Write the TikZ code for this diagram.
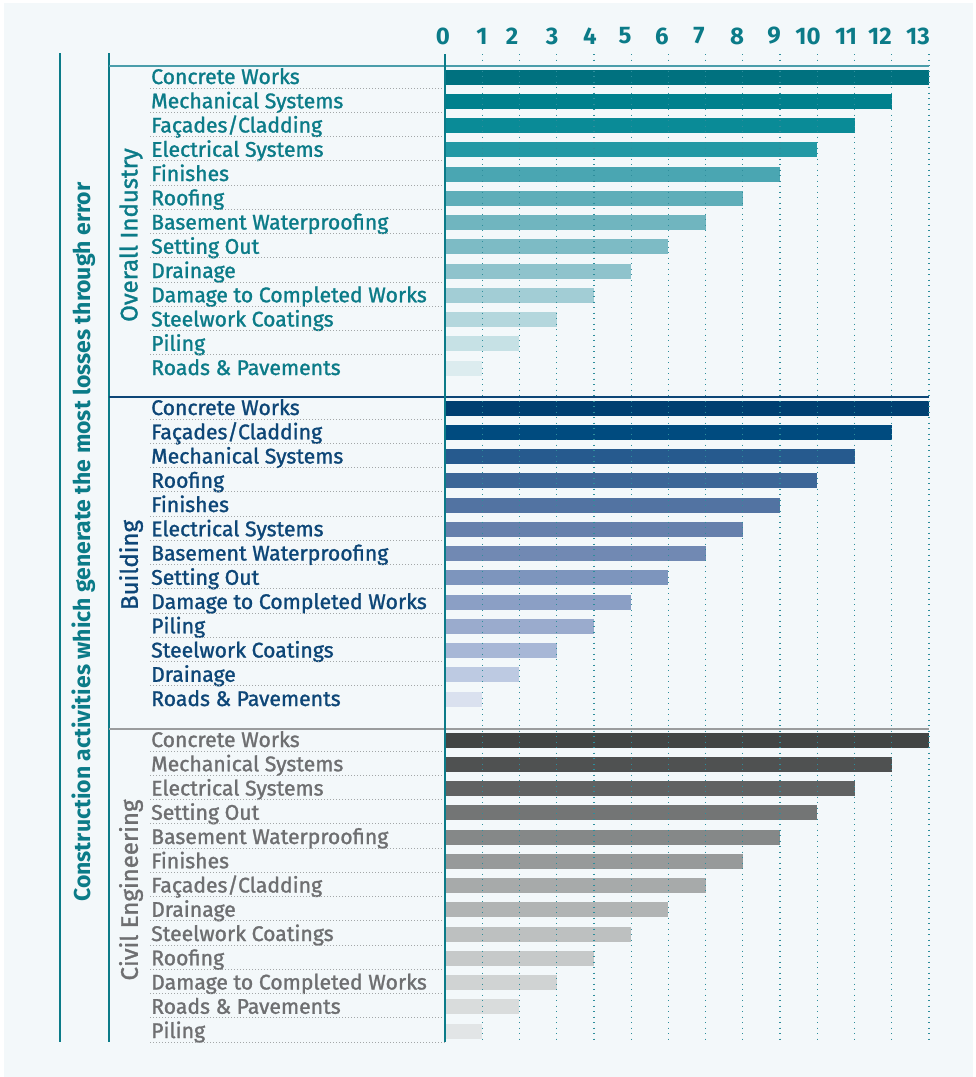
\documentclass[tikz,border=0pt]{standalone}
\usepackage{fontspec}
\setmainfont{Fira Sans}
\newfontfamily\lblfont[FakeBold=1.3]{Fira Sans}
\definecolor{bgcol}{HTML}{F3F8FA}
\definecolor{teal1}{HTML}{0B7B88}
\definecolor{axiscol}{HTML}{4A9DAA}
\definecolor{blue1}{HTML}{0D4677}
\definecolor{grey1}{HTML}{6E6F71}
\definecolor{greyline}{HTML}{9A9C9D}
\definecolor{dotcol}{HTML}{A3A7A8}
\definecolor{gridcol}{HTML}{2E8E9C}

% #1 name, #2 first row, #3 text colour, #4 dotted rules, #5 rows
\newcommand\bargroup[5]{%
  \foreach \lab/\col [count=\i from 0] in {#5}{
    \pgfmathsetmacro\ry{#2+\i*24.25}
    \pgfmathsetmacro\xe{445+(13-\i)*37.23}
    \definecolor{barcol}{HTML}{\col}
    \fill[barcol] (446,\ry-7.5) rectangle (\xe,\ry+7.5);
    \node[rowlbl,text=#3] (#1-\i) at (151,\ry+7) {\lab};
    \ifnum\i<#4 \draw[dotcol,line width=0.8,dash pattern=on 0.8 off 2.2] (150,\ry+11) -- (445,\ry+11);\fi
  }}

\begin{document}
\begin{tikzpicture}[x=1pt,y=-1pt,
  rowlbl/.style={anchor=base west,inner sep=0pt,font=\lblfont\fontsize{21.2}{22}\selectfont},
  grplbl/.style={rotate=90,inner sep=0pt,font=\lblfont\fontsize{24}{26}\selectfont},
  ticklbl/.style={inner sep=0pt,text=teal1,font=\bfseries\fontsize{24}{26}\selectfont}]
\useasboundingbox (0,0) rectangle (976,1077);
\fill[bgcol] (4,3) rectangle (973,1077);

\bargroup{ovr}{77}{teal1}{12}{Concrete Works/00717F, Mechanical Systems/00808D,
  {Façades/Cladding}/0A8B97, Electrical Systems/2399A5, Finishes/4AA6B2,
  Roofing/5FAEB9, Basement Waterproofing/70B5BF, Setting Out/7DBBC5,
  Drainage/8FC3CC, Damage to Completed Works/A2CDD5, Steelwork Coatings/B4D7DD,
  Piling/C6E1E5, Roads \& Pavements/DCECEF}
\bargroup{bld}{408}{blue1}{12}{Concrete Works/003F71, {Façades/Cladding}/004B7F,
  Mechanical Systems/265A8E, Roofing/3C6697, Finishes/5273A2,
  Electrical Systems/6680AC, Basement Waterproofing/7189B3, Setting Out/7D95BD,
  Damage to Completed Works/8B9FC5, Piling/9AABCD, Steelwork Coatings/A7B7D6,
  Drainage/BDCAE2, Roads \& Pavements/DAE1EF}
\bargroup{civ}{740}{grey1}{13}{Concrete Works/424544, Mechanical Systems/4F5151,
  Electrical Systems/606262, Setting Out/737575, Basement Waterproofing/858888,
  Finishes/979A9A, {Façades/Cladding}/A7AAAA, Drainage/B1B4B4,
  Steelwork Coatings/BDC0C0, Roofing/C6C9C9, Damage to Completed Works/D0D3D3,
  Roads \& Pavements/D9DCDC, Piling/E2E5E6}

% grid
\foreach \k in {1,...,13}
  \draw[gridcol,line width=1.2,dash pattern=on 1.2 off 4.3] (445+\k*37.23,54) -- (445+\k*37.23,1042);

\draw[teal1,line width=1.8] (60,53) -- (60,1042);
\draw[teal1,line width=1.8] (109,53) -- (109,1042);
\draw[axiscol,line width=2] (109,66) -- (929,66);
\draw[blue1,line width=1.8] (109,397) -- (929,397);
\draw[greyline,line width=1.8] (109,729) -- (929,729);
\draw[teal1,line width=1.5] (445,54) -- (445,1042);

\foreach \v/\x in {0/443,1/482,2/512,3/552,4/590,5/625,6/662,7/699,8/737,9/774,10/808,11/846,12/880,13/918}
  \node[ticklbl] (t\v) at (\x,36) {\v};

\node[grplbl,text=teal1] (ovr) at (131,235) {Overall Industry};
\node[grplbl,text=blue1] (bld) at (131,565) {Building};
\node[grplbl,text=grey1] (civ) at (131,890) {Civil Engineering};
\node[rotate=90,inner sep=0pt,text=teal1,font=\bfseries\fontsize{23}{25}\selectfont] (ttl) at (84,542)
  {Construction activities which generate the most losses through error};
\end{tikzpicture}
\end{document}
